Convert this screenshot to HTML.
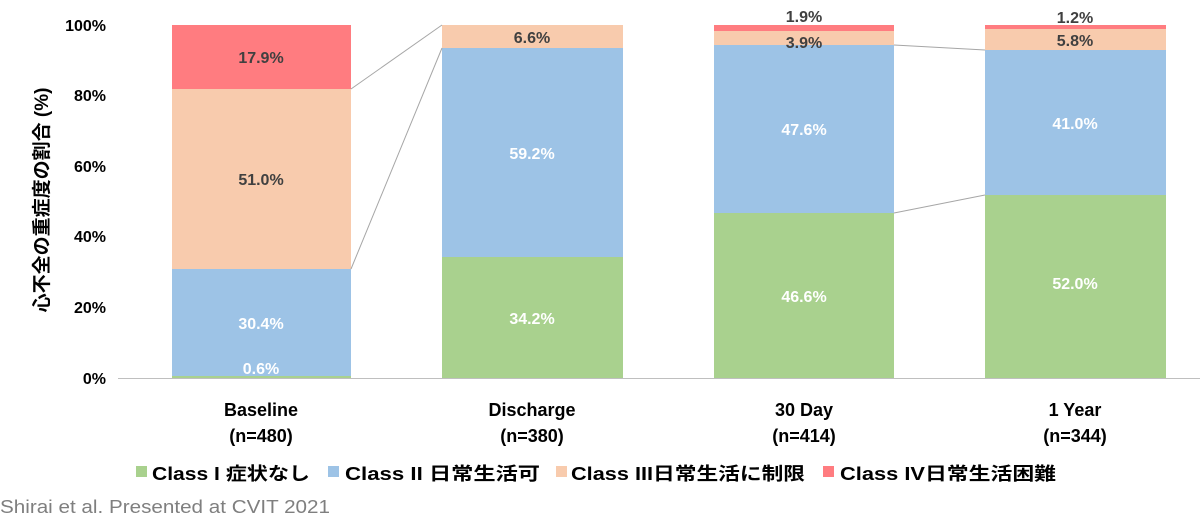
<!DOCTYPE html>
<html><head><meta charset="utf-8"><style>
body{margin:0;background:#fff;}
svg{display:block;font-family:"Liberation Sans","Noto Sans CJK JP",sans-serif;}
.v{font-size:16px;font-weight:bold;text-anchor:middle;}
.w{fill:#fff}.d{fill:#404040}
.t{font-size:16px;font-weight:bold;fill:#000;text-anchor:end;}
.x{font-size:18px;font-weight:bold;fill:#000;text-anchor:middle;}
.l{font-size:18px;font-weight:bold;fill:#000;}
</style></head><body>
<svg width="1200" height="520" viewBox="0 0 1200 520">
<!-- Baseline -->
<rect x="172" y="376" width="179" height="2" fill="#a9d18e"/>
<rect x="172" y="269" width="179" height="107" fill="#9dc3e6"/>
<rect x="172" y="89" width="179" height="180" fill="#f8cbad"/>
<rect x="172" y="25" width="179" height="64" fill="#ff7c80"/>
<!-- Discharge -->
<rect x="442" y="257" width="181" height="121" fill="#a9d18e"/>
<rect x="442" y="48" width="181" height="209" fill="#9dc3e6"/>
<rect x="442" y="25" width="181" height="23" fill="#f8cbad"/>
<!-- 30 Day -->
<rect x="714" y="213" width="180" height="165" fill="#a9d18e"/>
<rect x="714" y="45" width="180" height="168" fill="#9dc3e6"/>
<rect x="714" y="31" width="180" height="14" fill="#f8cbad"/>
<rect x="714" y="25" width="180" height="6" fill="#ff7c80"/>
<!-- 1 Year -->
<rect x="985" y="195" width="181" height="183" fill="#a9d18e"/>
<rect x="985" y="50" width="181" height="145" fill="#9dc3e6"/>
<rect x="985" y="29" width="181" height="21" fill="#f8cbad"/>
<rect x="985" y="25" width="181" height="4" fill="#ff7c80"/>
<!-- connectors -->
<g stroke="#a6a6a6" stroke-width="1">
<line x1="351" y1="89" x2="442" y2="25"/>
<line x1="351" y1="269" x2="442" y2="48"/>
<line x1="894" y1="213" x2="985" y2="195"/>
<line x1="894" y1="45" x2="985" y2="50"/>
</g>
<line x1="118" y1="378.5" x2="1200" y2="378.5" stroke="#bfbfbf" stroke-width="1"/>
<!-- y ticks -->
<text class="t" x="106" y="31">100%</text>
<text class="t" x="106" y="101">80%</text>
<text class="t" x="106" y="172">60%</text>
<text class="t" x="106" y="242">40%</text>
<text class="t" x="106" y="313">20%</text>
<text class="t" x="106" y="384">0%</text>
<text transform="translate(48,200) rotate(-90)" style="font-size:19px;font-weight:bold;text-anchor:middle">心不全の重症度の割合 (%)</text>
<!-- value labels -->
<text class="v d" x="261" y="63">17.9%</text>
<text class="v d" x="261" y="185">51.0%</text>
<text class="v w" x="261" y="329">30.4%</text>
<text class="v w" x="261" y="374">0.6%</text>
<text class="v d" x="532" y="43">6.6%</text>
<text class="v w" x="532" y="159">59.2%</text>
<text class="v w" x="532" y="324">34.2%</text>
<text class="v d" x="804" y="22">1.9%</text>
<text class="v d" x="804" y="48">3.9%</text>
<text class="v w" x="804" y="135">47.6%</text>
<text class="v w" x="804" y="302">46.6%</text>
<text class="v d" x="1075" y="23">1.2%</text>
<text class="v d" x="1075" y="46">5.8%</text>
<text class="v w" x="1075" y="129">41.0%</text>
<text class="v w" x="1075" y="289">52.0%</text>
<!-- x labels -->
<text class="x" x="261" y="416">Baseline</text><text class="x" x="261" y="442">(n=480)</text>
<text class="x" x="532" y="416">Discharge</text><text class="x" x="532" y="442">(n=380)</text>
<text class="x" x="804" y="416">30 Day</text><text class="x" x="804" y="442">(n=414)</text>
<text class="x" x="1075" y="416">1 Year</text><text class="x" x="1075" y="442">(n=344)</text>
<!-- legend -->
<rect x="136" y="466" width="11" height="11" fill="#a9d18e"/>
<text class="l" x="152" y="480" textLength="158" lengthAdjust="spacingAndGlyphs">Class I 症状なし</text>
<rect x="328" y="466" width="11" height="11" fill="#9dc3e6"/>
<text class="l" x="345" y="480" textLength="195" lengthAdjust="spacingAndGlyphs">Class II 日常生活可</text>
<rect x="556" y="466" width="11" height="11" fill="#f8cbad"/>
<text class="l" x="571" y="480" textLength="234" lengthAdjust="spacingAndGlyphs">Class III日常生活に制限</text>
<rect x="823" y="466" width="11" height="11" fill="#ff7c80"/>
<text class="l" x="840" y="480" textLength="216" lengthAdjust="spacingAndGlyphs">Class IV日常生活困難</text>
<text x="0" y="513" style="font-size:18px;fill:#7f7f7f" textLength="330" lengthAdjust="spacingAndGlyphs">Shirai et al. Presented at CVIT 2021</text>
</svg>
</body></html>
